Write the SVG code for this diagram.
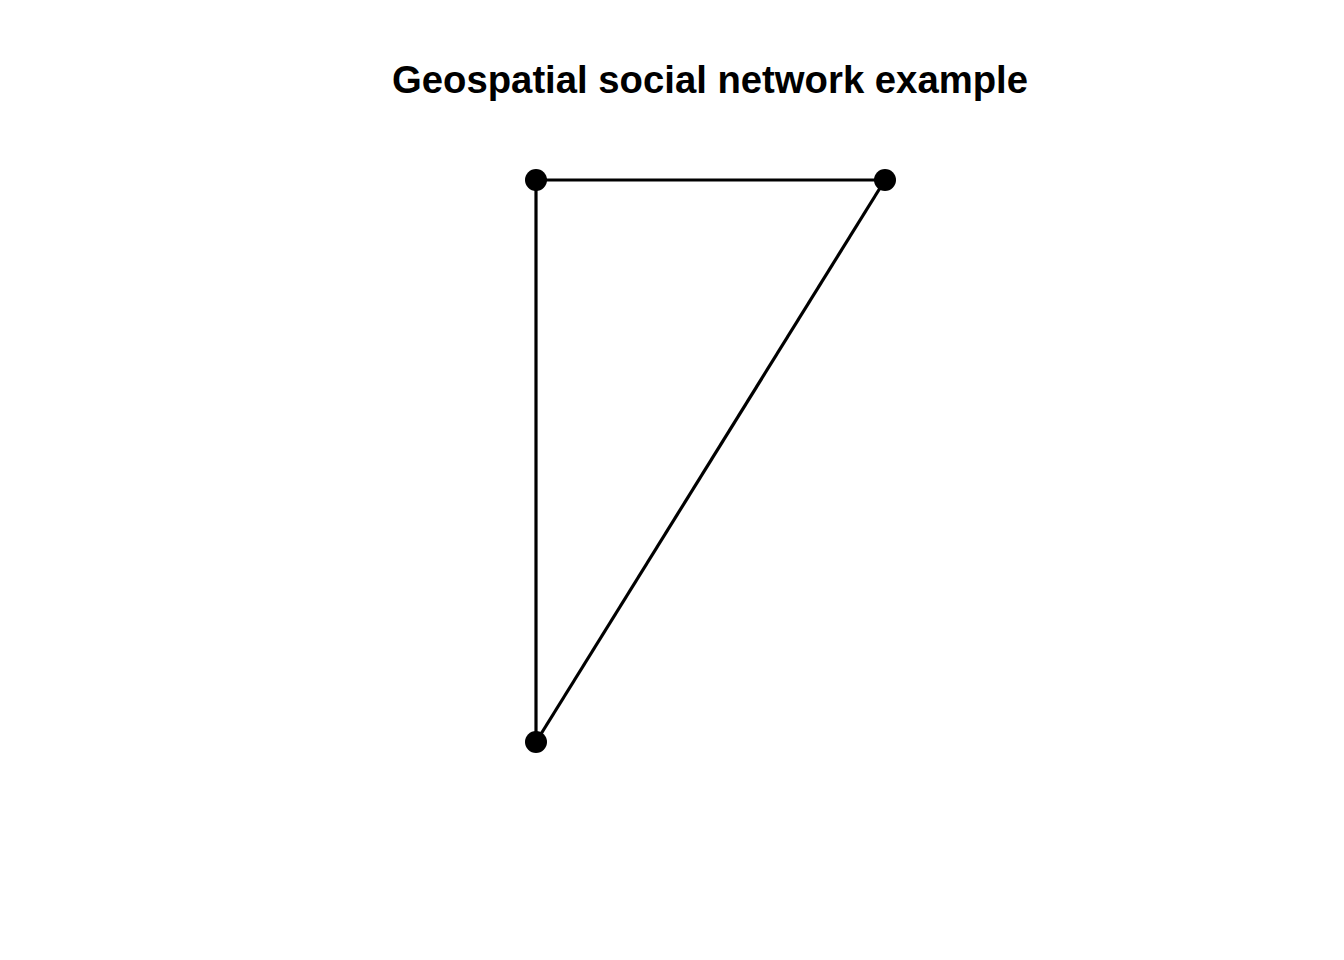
<svg xmlns="http://www.w3.org/2000/svg" width="1344" height="960" viewBox="0 0 1344 960">
<style>
.edge{stroke:#000;stroke-width:3.2;fill:none}
.node{fill:#000}
.title{font-family:"Liberation Sans",Arial,sans-serif;font-weight:bold;font-size:38px;fill:#000}
</style>
<rect width="1344" height="960" fill="#fff"/>
<text class="title" x="710" y="93" text-anchor="middle" textLength="636" lengthAdjust="spacingAndGlyphs">Geospatial social network example</text>
<g id="edges">
<line class="edge" x1="536" y1="180" x2="885" y2="180"/>
<line class="edge" x1="536" y1="180" x2="536" y2="742"/>
<line class="edge" x1="885" y1="180" x2="536" y2="742"/>
</g>
<g id="n1"><circle class="node" cx="536" cy="180" r="11"/></g>
<g id="n2"><circle class="node" cx="885" cy="180" r="11"/></g>
<g id="n3"><circle class="node" cx="536" cy="742" r="11"/></g>
</svg>
